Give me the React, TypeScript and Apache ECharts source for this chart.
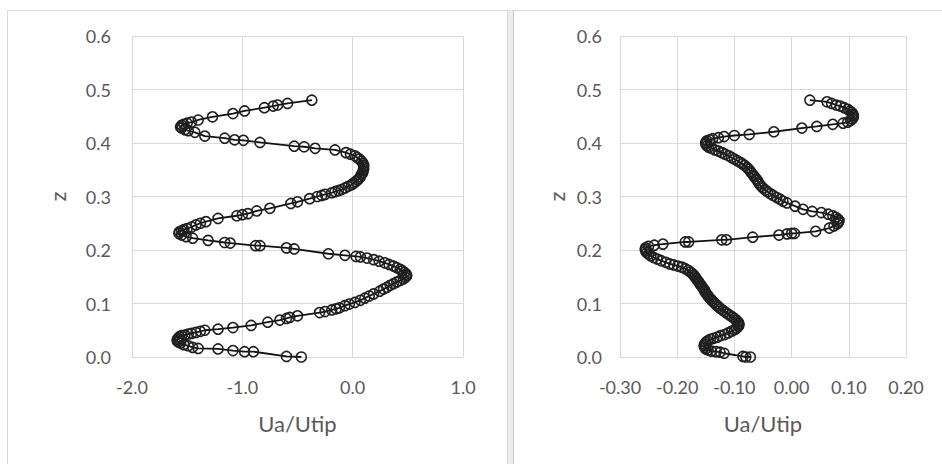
import React, { useEffect, useRef } from "react";
import * as echarts from "echarts";

// Left panel: [Ua/Utip, z] points in measurement order (bottom to top)
const leftPoints: number[][] = [
  [-0.465, 0.0], [-0.6, 0.001], [-0.9, 0.01], [-0.98, 0.01], [-1.085, 0.012], [-1.22, 0.015], [-1.4, 0.016],
  [-1.45, 0.018], [-1.49, 0.021], [-1.53, 0.023], [-1.56, 0.026], [-1.58, 0.028], [-1.59, 0.03], [-1.59, 0.033],
  [-1.58, 0.035], [-1.57, 0.038], [-1.55, 0.04], [-1.52, 0.041], [-1.49, 0.043], [-1.46, 0.044], [-1.42, 0.046],
  [-1.38, 0.048], [-1.34, 0.05], [-1.22, 0.052], [-1.085, 0.055], [-0.92, 0.059], [-0.77, 0.065], [-0.66, 0.069],
  [-0.6, 0.072], [-0.57, 0.074], [-0.5, 0.077], [-0.3, 0.083], [-0.25, 0.085], [-0.19, 0.088], [-0.15, 0.09],
  [-0.12, 0.092], [-0.07, 0.096], [-0.03, 0.099], [0.02, 0.102], [0.07, 0.106], [0.11, 0.11], [0.15, 0.114],
  [0.19, 0.118], [0.245, 0.123], [0.28, 0.127], [0.31, 0.13], [0.34, 0.134], [0.37, 0.137], [0.4, 0.14],
  [0.43, 0.143], [0.46, 0.146], [0.48, 0.149], [0.49, 0.152], [0.485, 0.155], [0.47, 0.158], [0.45, 0.161],
  [0.43, 0.164], [0.4, 0.167], [0.37, 0.17], [0.33, 0.173], [0.29, 0.176], [0.24, 0.179], [0.19, 0.182],
  [0.13, 0.185], [0.07, 0.187], [0.03, 0.188], [-0.07, 0.19], [-0.22, 0.193], [-0.53, 0.202], [-0.6, 0.204],
  [-0.84, 0.208], [-0.88, 0.208], [-1.11, 0.213], [-1.16, 0.214], [-1.31, 0.218], [-1.45, 0.222], [-1.51, 0.225],
  [-1.55, 0.228], [-1.575, 0.231], [-1.57, 0.234], [-1.55, 0.236], [-1.53, 0.238], [-1.5, 0.24], [-1.46, 0.243],
  [-1.42, 0.247], [-1.38, 0.25], [-1.33, 0.253], [-1.22, 0.259], [-1.05, 0.264], [-1.0, 0.266], [-0.95, 0.268],
  [-0.87, 0.273], [-0.75, 0.278], [-0.56, 0.287], [-0.5, 0.29], [-0.39, 0.296], [-0.32, 0.3], [-0.28, 0.302],
  [-0.25, 0.304], [-0.19, 0.307], [-0.16, 0.309], [-0.13, 0.311], [-0.1, 0.313], [-0.07, 0.316], [-0.04, 0.319],
  [-0.01, 0.322], [0.01, 0.325], [0.03, 0.328], [0.045, 0.331], [0.06, 0.334], [0.07, 0.337], [0.08, 0.341],
  [0.09, 0.344], [0.095, 0.348], [0.1, 0.351], [0.1, 0.355], [0.1, 0.358], [0.095, 0.362], [0.08, 0.366],
  [0.06, 0.37], [0.04, 0.373], [0.02, 0.376], [-0.02, 0.379], [-0.06, 0.382], [-0.16, 0.387], [-0.34, 0.39],
  [-0.44, 0.393], [-0.53, 0.394], [-0.84, 0.401], [-0.99, 0.405], [-1.07, 0.406], [-1.16, 0.409], [-1.34, 0.413],
  [-1.43, 0.42], [-1.49, 0.423], [-1.52, 0.425], [-1.55, 0.428], [-1.56, 0.43], [-1.55, 0.433], [-1.53, 0.435],
  [-1.5, 0.437], [-1.46, 0.439], [-1.4, 0.443], [-1.27, 0.449], [-1.085, 0.455], [-0.98, 0.46], [-0.8, 0.466],
  [-0.72, 0.469], [-0.68, 0.471], [-0.59, 0.474], [-0.37, 0.48],
];

// Right panel: [Ua/Utip, z] points in measurement order (bottom to top)
const rightPoints: number[][] = [
  [-0.072, 0.0], [-0.08, 0.0], [-0.085, 0.001], [-0.118, 0.007], [-0.125, 0.009], [-0.132, 0.01], [-0.14, 0.011],
  [-0.146, 0.013], [-0.15, 0.015], [-0.152, 0.018], [-0.153, 0.021], [-0.152, 0.024], [-0.15, 0.027],
  [-0.147, 0.03], [-0.142, 0.033], [-0.136, 0.035], [-0.13, 0.037], [-0.124, 0.04], [-0.117, 0.042],
  [-0.111, 0.045], [-0.105, 0.048], [-0.1, 0.051], [-0.096, 0.054], [-0.093, 0.057], [-0.092, 0.06],
  [-0.092, 0.063], [-0.094, 0.066], [-0.097, 0.069], [-0.1, 0.072], [-0.104, 0.075], [-0.108, 0.078],
  [-0.112, 0.081], [-0.116, 0.084], [-0.12, 0.087], [-0.124, 0.09], [-0.127, 0.093], [-0.13, 0.096],
  [-0.133, 0.099], [-0.136, 0.102], [-0.139, 0.105], [-0.141, 0.108], [-0.144, 0.111], [-0.146, 0.114],
  [-0.148, 0.117], [-0.15, 0.12], [-0.152, 0.123], [-0.153, 0.126], [-0.155, 0.129], [-0.157, 0.132],
  [-0.159, 0.135], [-0.161, 0.138], [-0.163, 0.141], [-0.165, 0.144], [-0.167, 0.147], [-0.169, 0.15],
  [-0.171, 0.153], [-0.174, 0.156], [-0.177, 0.159], [-0.181, 0.162], [-0.186, 0.165], [-0.192, 0.168],
  [-0.199, 0.17], [-0.206, 0.172], [-0.213, 0.174], [-0.22, 0.177], [-0.228, 0.18], [-0.235, 0.183],
  [-0.241, 0.186], [-0.246, 0.189], [-0.25, 0.192], [-0.253, 0.195], [-0.255, 0.198], [-0.256, 0.201],
  [-0.255, 0.204], [-0.25, 0.207], [-0.24, 0.209], [-0.225, 0.211], [-0.186, 0.215], [-0.18, 0.215],
  [-0.122, 0.219], [-0.114, 0.219], [-0.068, 0.224], [-0.022, 0.228], [-0.008, 0.23], [0.0, 0.231],
  [0.005, 0.231], [0.042, 0.235], [0.066, 0.241], [0.074, 0.245], [0.08, 0.249], [0.082, 0.252], [0.083, 0.255],
  [0.081, 0.258], [0.077, 0.261], [0.072, 0.264], [0.064, 0.267], [0.052, 0.27], [0.036, 0.272], [0.02, 0.276],
  [0.006, 0.282], [-0.008, 0.288], [-0.015, 0.291], [-0.02, 0.295], [-0.026, 0.298], [-0.032, 0.302],
  [-0.037, 0.305], [-0.042, 0.309], [-0.046, 0.312], [-0.05, 0.316], [-0.053, 0.319], [-0.056, 0.323],
  [-0.058, 0.326], [-0.06, 0.33], [-0.062, 0.333], [-0.065, 0.337], [-0.067, 0.34], [-0.07, 0.344],
  [-0.072, 0.347], [-0.075, 0.351], [-0.078, 0.354], [-0.082, 0.358], [-0.086, 0.361], [-0.09, 0.364],
  [-0.095, 0.367], [-0.1, 0.37], [-0.105, 0.373], [-0.11, 0.376], [-0.116, 0.379], [-0.122, 0.382],
  [-0.128, 0.385], [-0.134, 0.387], [-0.14, 0.39], [-0.145, 0.392], [-0.148, 0.395], [-0.15, 0.398],
  [-0.15, 0.401], [-0.148, 0.404], [-0.143, 0.406], [-0.138, 0.408], [-0.128, 0.41], [-0.118, 0.412],
  [-0.1, 0.414], [-0.074, 0.416], [-0.031, 0.421], [0.018, 0.428], [0.044, 0.431], [0.072, 0.435],
  [0.09, 0.437], [0.098, 0.439], [0.103, 0.442], [0.106, 0.445], [0.108, 0.448], [0.108, 0.451],
  [0.107, 0.454], [0.105, 0.457], [0.102, 0.46], [0.098, 0.463], [0.092, 0.466], [0.085, 0.469],
  [0.078, 0.471], [0.07, 0.474], [0.062, 0.477], [0.032, 0.48],
];

const leftTicksX = [-2, -1, 0, 1];
const rightTicksX = [-0.3, -0.2, -0.1, 0.0, 0.1, 0.2];
const yTicks = [0, 0.1, 0.2, 0.3, 0.4, 0.5, 0.6];

const xTitle = "Ua/Utip";
const yTitle = "z";

const FONT = "Lato";
const LABEL_COLOR = "#595959";
const GRID_COLOR = "#d9d9d9";

export default function App() {
  const ref = useRef<HTMLDivElement>(null);

  useEffect(() => {
    if (!ref.current) return;
    const chart = echarts.init(ref.current, null, { renderer: "svg", width: 942, height: 464 });

    const xAxis = (gridIndex: number, ticks: number[], digits: number) => ({
      type: "value",
      gridIndex,
      min: ticks[0],
      max: ticks[ticks.length - 1],
      interval: Math.round((ticks[1] - ticks[0]) * 1000) / 1000,
      axisLine: { show: true, lineStyle: { color: GRID_COLOR, width: 1 } },
      axisTick: { show: false },
      splitLine: { show: true, lineStyle: { color: GRID_COLOR, width: 1 } },
      axisLabel: {
        showMinLabel: true,
        showMaxLabel: true,
        margin: 21,
        color: LABEL_COLOR,
        fontFamily: FONT,
        fontSize: 18,
        formatter: (v: number) => v.toFixed(digits),
      },
      name: xTitle,
      nameLocation: "middle",
      nameGap: 55,
      nameTextStyle: { color: LABEL_COLOR, fontFamily: FONT, fontSize: 22 },
    });

    const yAxis = (gridIndex: number, margin: number, nameGap: number) => ({
      type: "value",
      gridIndex,
      min: yTicks[0],
      max: yTicks[yTicks.length - 1],
      interval: 0.1,
      axisLine: { show: false },
      axisTick: { show: false },
      splitLine: { show: true, lineStyle: { color: GRID_COLOR, width: 1 } },
      axisLabel: {
        showMinLabel: true,
        showMaxLabel: true,
        margin,
        color: LABEL_COLOR,
        fontFamily: FONT,
        fontSize: 18,
        formatter: (v: number) => v.toFixed(1),
      },
      name: yTitle,
      nameLocation: "middle",
      nameGap,
      nameTextStyle: { color: LABEL_COLOR, fontFamily: FONT, fontSize: 22 },
    });

    const series = (idx: number, pts: number[][]) => ({
      type: "line",
      xAxisIndex: idx,
      yAxisIndex: idx,
      data: pts,
      symbol: "circle",
      symbolSize: 10,
      showAllSymbol: true,
      lineStyle: { color: "#111", width: 1.8 },
      itemStyle: { color: "rgba(0,0,0,0)", borderColor: "#1f1f1f", borderWidth: 1.6 },
      emphasis: { disabled: true },
      silent: true,
    });

    chart.setOption({
      animation: false,
      backgroundColor: "#fff",
      grid: [
        { left: 132, top: 36, width: 331, height: 321 },
        { left: 620, top: 36, width: 286, height: 321 },
      ],
      xAxis: [xAxis(0, leftTicksX, 1), xAxis(1, rightTicksX, 2)],
      yAxis: [yAxis(0, 21, 64), yAxis(1, 18, 53)],
      series: [series(0, leftPoints), series(1, rightPoints)],
      graphic: [
        { type: "line", shape: { x1: 7, y1: 10.5, x2: 942, y2: 10.5 }, style: { stroke: "#d9d9d9", lineWidth: 1 }, silent: true },
        { type: "line", shape: { x1: 7.5, y1: 10, x2: 7.5, y2: 464 }, style: { stroke: "#d9d9d9", lineWidth: 1 }, silent: true },
        { type: "rect", shape: { x: 507, y: 10, width: 6, height: 454 }, style: { fill: "#ececec" }, silent: true },
        { type: "line", shape: { x1: 507.5, y1: 10, x2: 507.5, y2: 464 }, style: { stroke: "#d9d9d9", lineWidth: 1 }, silent: true },
        { type: "line", shape: { x1: 513.5, y1: 10, x2: 513.5, y2: 464 }, style: { stroke: "#cccccc", lineWidth: 1 }, silent: true },
      ],
    });

    return () => chart.dispose();
  }, []);

  return (
    <div
      ref={ref}
      style={{ position: "absolute", left: 0, top: 0, width: 942, height: 464, background: "#fff" }}
    />
  );
}
